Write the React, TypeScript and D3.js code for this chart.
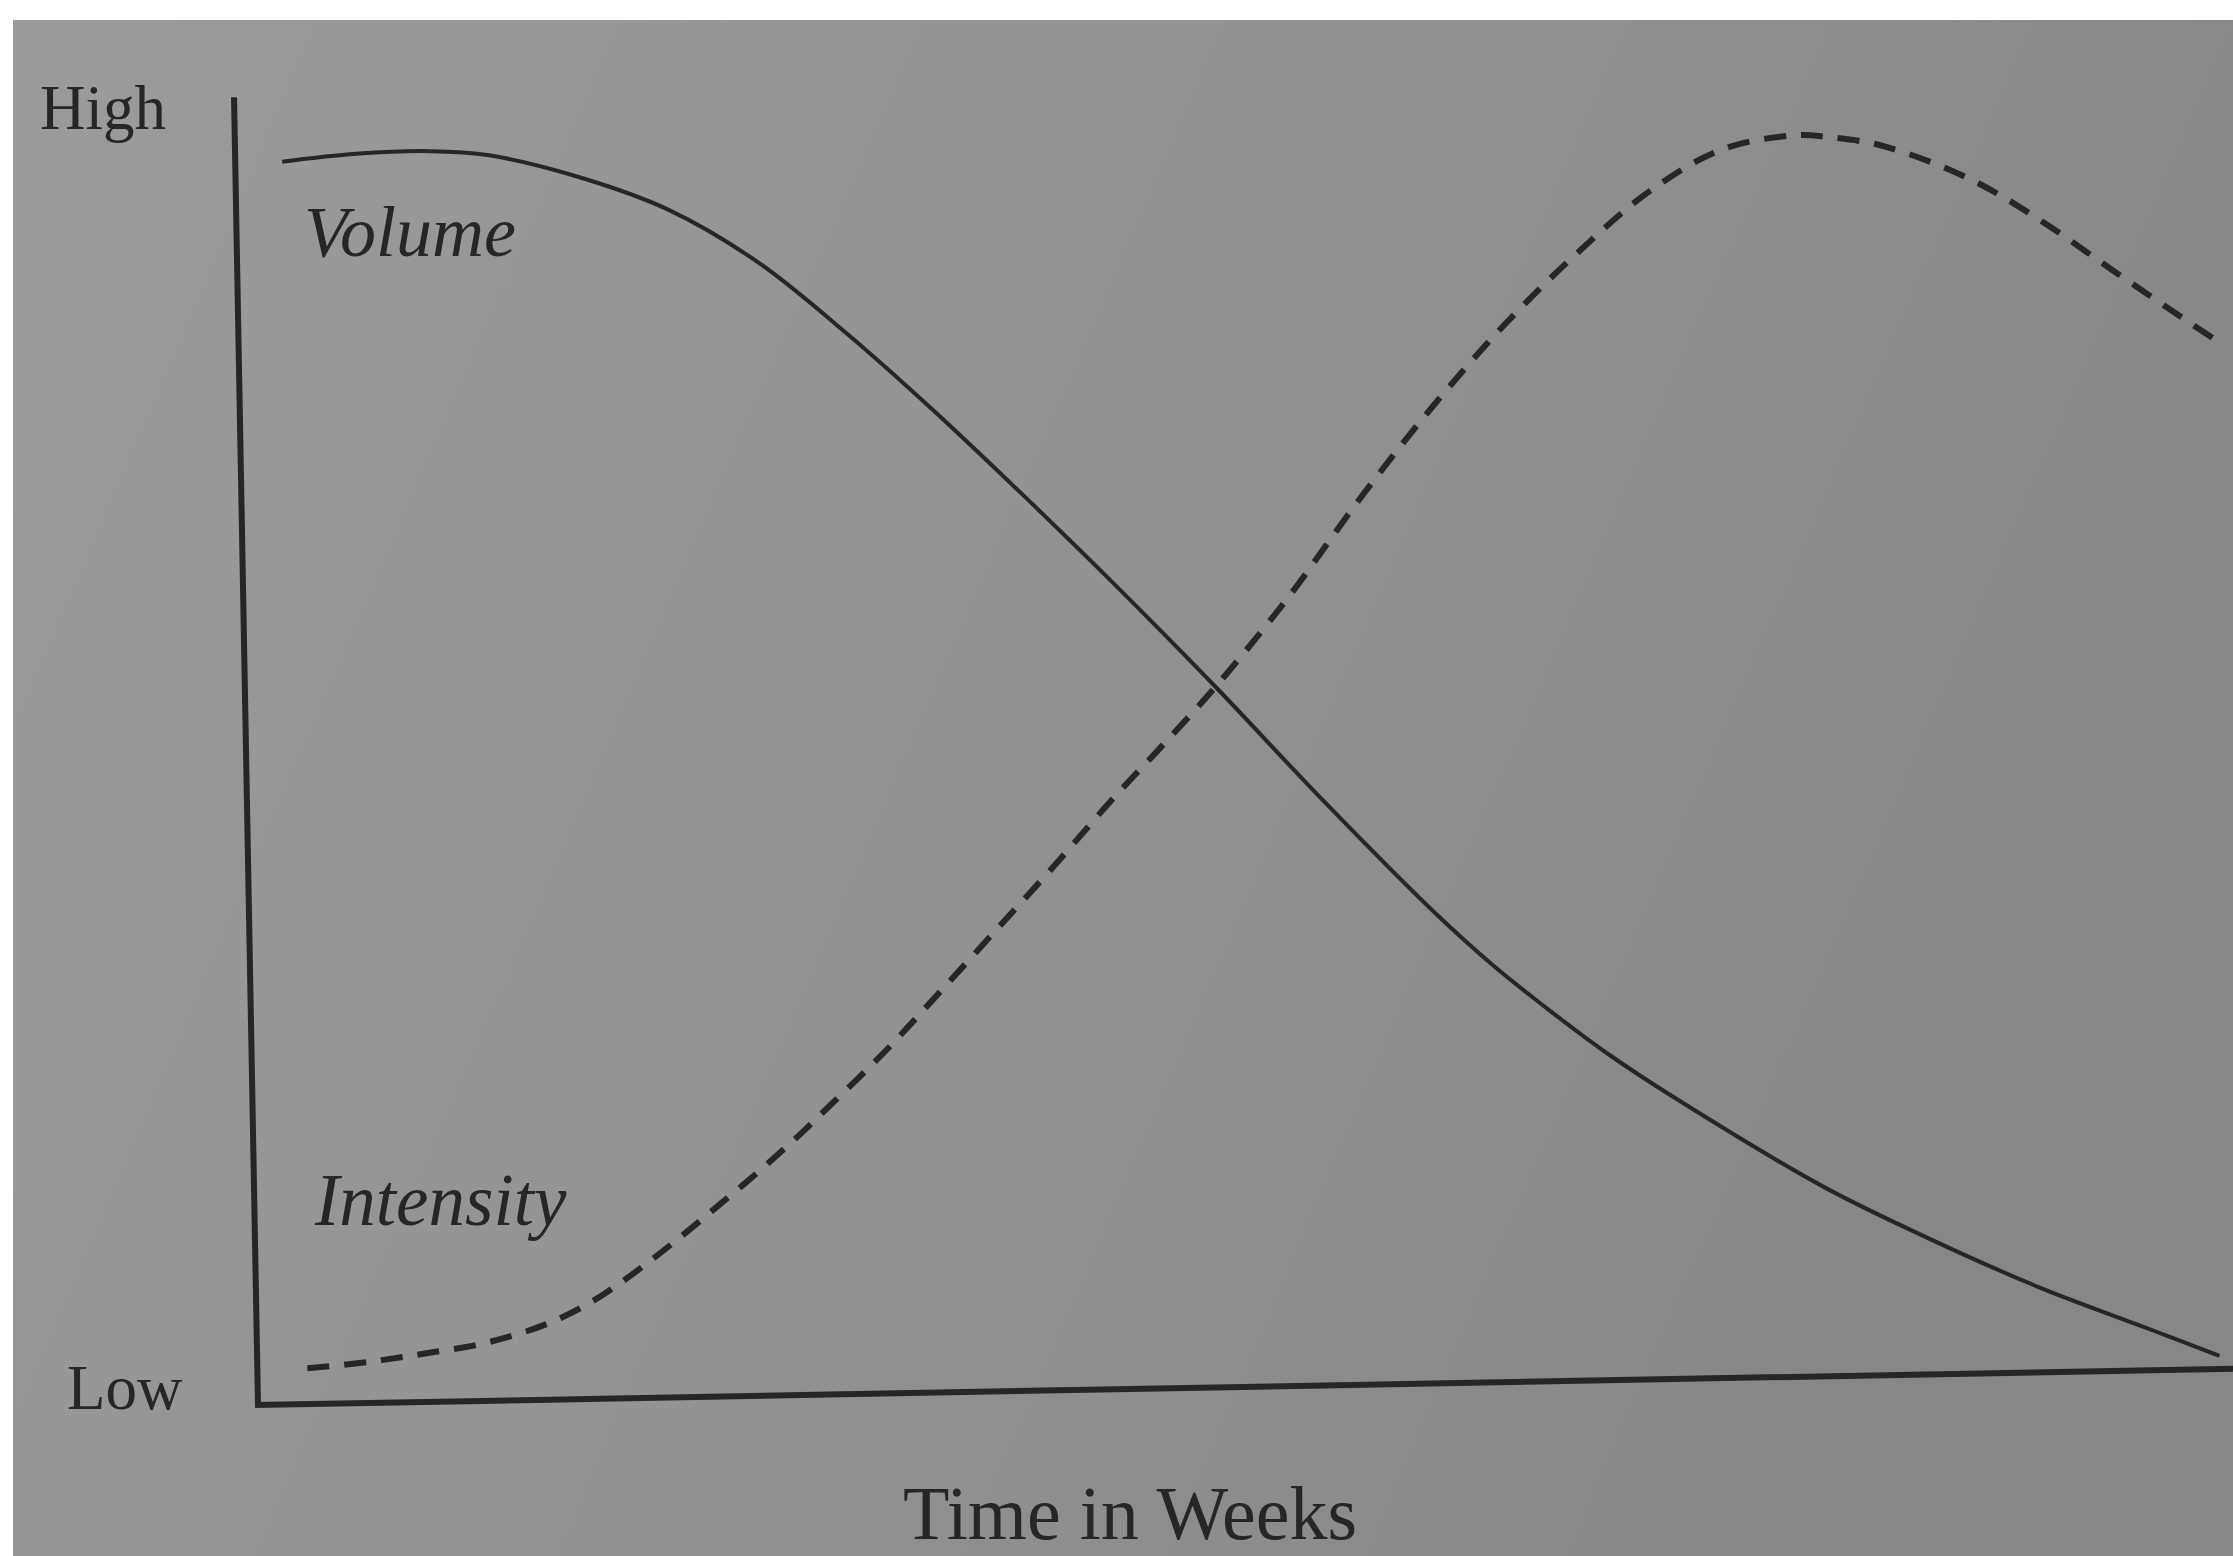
import * as d3 from "d3";

// Volume vs intensity over a training block (levels 0 = Low, 100 = High)
const volumeWeeks = [0.47, 1.21, 1.95, 2.54, 3.44, 4.32, 5.2, 6.08, 6.96, 7.84, 8.68, 9.7, 10.75, 11.88, 12.44, 13.01, 13.57, 14.26, 15.69, 16.76, 17.83, 18.91, 19.62];
const volumeLevels = [95.0, 95.5, 95.6, 95.2, 93.4, 90.8, 86.7, 81.1, 74.9, 68.3, 61.8, 53.6, 44.8, 35.8, 31.8, 28.2, 24.9, 21.3, 14.5, 10.3, 6.5, 3.2, 1.0];

const intensityWeeks = [0.5, 1.0, 1.39, 1.77, 2.19, 2.58, 2.96, 3.35, 3.66, 3.97, 4.28, 4.59, 4.9, 5.21, 5.48, 5.76, 6.07, 6.38, 6.88, 7.47, 8.06, 8.64, 9.12, 9.71, 10.45, 11.19, 11.93, 12.67, 13.4, 14.13, 14.86, 15.59, 15.95, 16.46, 17.32, 18.03, 18.74, 19.46, 19.78];
const intensityLevels = [2.74, 3.05, 3.4, 3.8, 4.28, 4.99, 5.96, 7.4, 8.9, 10.6, 12.4, 14.3, 16.2, 18.2, 20.0, 22.0, 24.2, 26.5, 30.5, 35.3, 40.1, 45.0, 48.8, 53.6, 60.3, 67.8, 74.7, 80.9, 86.2, 90.8, 93.9, 94.9, 94.7, 94.0, 91.4, 88.1, 84.2, 80.3, 78.6];

const seriesNames = ["Volume", "Intensity"];
const levelLabels = ["Low", "High"];
const xTitle = "Time in Weeks";

const W = 2233;
const H = 1556;
const ink = "#262626";

export default function App() {
  const x = d3.scaleLinear().domain([0, 20]).range([0, 2000]);
  const y = d3.scaleLinear().domain([0, 100]).range([0, -1308]);

  const line = d3
    .line<[number, number]>()
    .x((d) => x(d[0]))
    .y((d) => y(d[1]))
    .curve(d3.curveCatmullRom.alpha(0.5));

  const volume = volumeWeeks.map((w, i) => [w, volumeLevels[i]] as [number, number]);
  const intensity = intensityWeeks.map((w, i) => [w, intensityLevels[i]] as [number, number]);

  const serif = "'Liberation Serif', 'DejaVu Serif', serif";

  return (
    <svg
      width={W}
      height={H}
      style={{ position: "absolute", left: 0, top: 0, display: "block", background: "#fff" }}
    >
      <defs>
        <linearGradient id="paper" x1="0" y1="0" x2="1" y2="0.3">
          <stop offset="0" stopColor="#9b9b9b" />
          <stop offset="0.5" stopColor="#939393" />
          <stop offset="1" stopColor="#878787" />
        </linearGradient>
      </defs>
      <rect x={13} y={20} width={W - 13} height={H - 20} fill="url(#paper)" />

      {/* the page is photographed slightly tilted */}
      <g transform="translate(258,1405) rotate(-1.05)">
        <line x1={x(0)} y1={y(0)} x2={x(0)} y2={y(100)} stroke={ink} strokeWidth={6} />
        <line x1={x(0) - 3} y1={y(0)} x2={x(20)} y2={y(0)} stroke={ink} strokeWidth={6} />
        <path d={line(volume) ?? ""} fill="none" stroke={ink} strokeWidth={4} />
        <path
          d={line(intensity) ?? ""}
          fill="none"
          stroke={ink}
          strokeWidth={6}
          strokeDasharray="22 15"
        />
      </g>

      <text x={40} y={129} fontFamily={serif} fontSize={63} fill={ink}>
        {levelLabels[1]}
      </text>
      <text x={67} y={1409} fontFamily={serif} fontSize={63} fill={ink}>
        {levelLabels[0]}
      </text>
      <text x={304} y={256} fontFamily={serif} fontStyle="italic" fontSize={72} fill={ink}>
        {seriesNames[0]}
      </text>
      <text x={315} y={1225} fontFamily={serif} fontStyle="italic" fontSize={73} fill={ink}>
        {seriesNames[1]}
      </text>
      <text x={1130} y={1539} textAnchor="middle" fontFamily={serif} fontSize={76} fill={ink}>
        {xTitle}
      </text>
    </svg>
  );
}
